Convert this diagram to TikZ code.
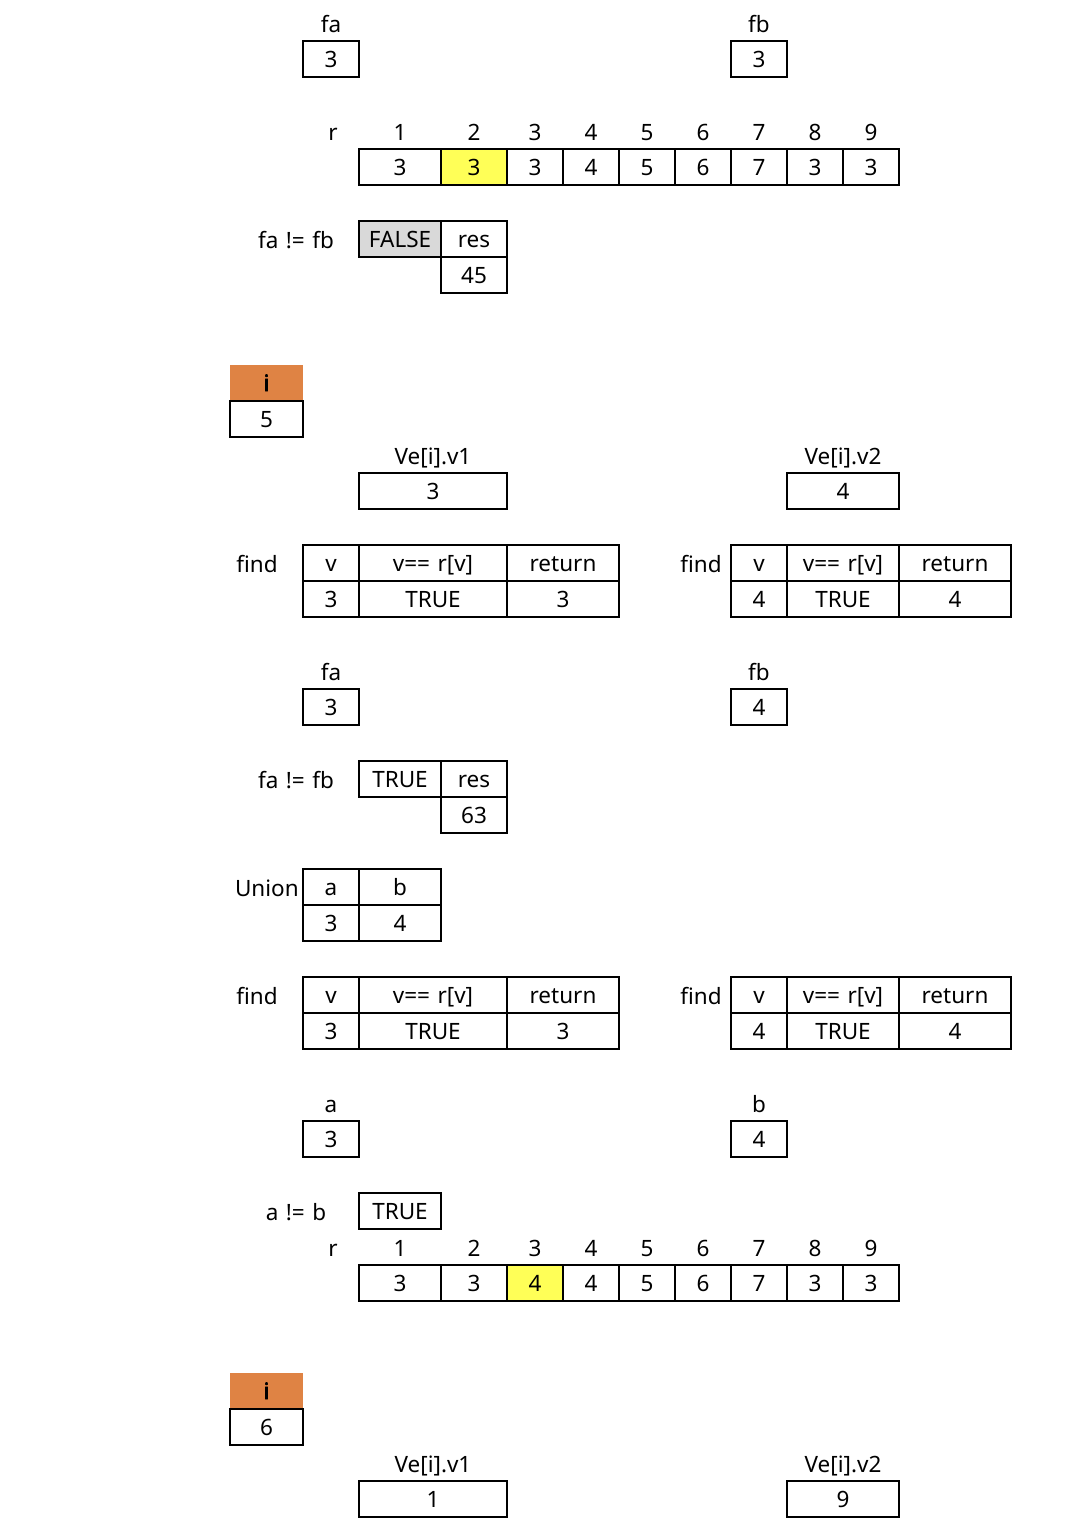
\documentclass[tikz,border=0pt]{standalone}
\usepackage{fontspec}
\setmainfont{Noto Sans}
\newfontfamily\iboldfont{Noto Sans}[FakeBold=2.5]
\definecolor{hlyellow}{HTML}{FFFF57}
\definecolor{idxorange}{HTML}{DF8344}
\definecolor{falsegray}{HTML}{D9D9D9}
\tikzset{
  txt/.style={font=\fontsize{22.5}{27}\selectfont, text height=16pt, text depth=0pt, inner sep=0pt, outer sep=0pt},
  cellst/.style={txt, draw=black, line width=1.8pt, fill=white},
  lab/.style={txt},
  yel/.style={fill=hlyellow},
  org/.style={fill=idxorange, draw=none, font=\fontsize{22.5}{27}\iboldfont},
  gry/.style={fill=falsegray},
}
% \Cell[style]{name}{x1}{x2}{y1}{y2}{text}
\newcommand\Cell[7][]{\node[cellst,#1,minimum width={(#4)-(#3)}, minimum height={(#6)-(#5)}] (#2) at ({((#3)+(#4))/2},{-((#5)+(#6))/2}) {#7};}
\begin{document}
\begin{tikzpicture}[x=1pt,y=1pt]
\useasboundingbox (0,0) rectangle (1070,-1526);
% ---------- Section 1 ----------
\node[lab] (faL1) at (331,-24) {fa};
\Cell{fa1}{303}{359}{41}{77}{3}
\node[lab] (fbL1) at (759,-24) {fb};
\Cell{fb1}{731}{787}{41}{77}{3}
\node[lab] (rL1) at (333,-132) {r};
\foreach \n/\xa/\xb/\v/\s in {1/359/441/3/,2/441/507/3/yel,3/507/563/3/,4/563/619/4/,5/619/675/5/,6/675/731/6/,7/731/787/7/,8/787/843/3/,9/843/899/3/}{
  \node[lab] (rIdxA\n) at ({(\xa+\xb)/2},-132) {\n};
  \Cell[\s]{rA\n}{\xa}{\xb}{149}{185}{\v}
}
\node[lab] (neqL1) at (296,-240) {fa\,\,!=\,\,fb};
\Cell[gry]{neqV1}{359}{441}{221}{257}{FALSE}
\Cell{resH1}{441}{507}{221}{257}{res}
\Cell{resV1}{441}{507}{257}{293}{45}
% ---------- Section 2 ----------
\Cell[org]{iH1}{230}{303}{365}{401}{i}
\Cell{iV1}{230}{303}{401}{437}{5}
\node[lab] (v1L1) at (433,-456) {Ve[i].v1};
\Cell{v1V1}{359}{507}{473}{509}{3}
\node[lab] (v2L1) at (843,-456) {Ve[i].v2};
\Cell{v2V1}{787}{899}{473}{509}{4}
% find tables
\node[lab] (findLa) at (257,-564) {find};
\Cell{fAvh}{303}{359}{545}{581}{v}
\Cell{fAch}{359}{507}{545}{581}{v==\,\,r[v]}
\Cell{fArh}{507}{619}{545}{581}{return}
\Cell{fAvv}{303}{359}{581}{617}{3}
\Cell{fAcv}{359}{507}{581}{617}{TRUE}
\Cell{fArv}{507}{619}{581}{617}{3}
\node[lab] (findLb) at (701,-564) {find};
\Cell{fBvh}{731}{787}{545}{581}{v}
\Cell{fBch}{787}{899}{545}{581}{v==\,\,r[v]}
\Cell{fBrh}{899}{1011}{545}{581}{return}
\Cell{fBvv}{731}{787}{581}{617}{4}
\Cell{fBcv}{787}{899}{581}{617}{TRUE}
\Cell{fBrv}{899}{1011}{581}{617}{4}
% fa fb
\node[lab] (faL2) at (331,-672) {fa};
\Cell{fa2}{303}{359}{689}{725}{3}
\node[lab] (fbL2) at (759,-672) {fb};
\Cell{fb2}{731}{787}{689}{725}{4}
\node[lab] (neqL2) at (296,-780) {fa\,\,!=\,\,fb};
\Cell{neqV2}{359}{441}{761}{797}{TRUE}
\Cell{resH2}{441}{507}{761}{797}{res}
\Cell{resV2}{441}{507}{797}{833}{63}
% Union
\node[lab, anchor=west] (unionL) at (235,-888) {Union};
\Cell{uAh}{303}{359}{869}{905}{a}
\Cell{uBh}{359}{441}{869}{905}{b}
\Cell{uAv}{303}{359}{905}{941}{3}
\Cell{uBv}{359}{441}{905}{941}{4}
% find tables 2
\node[lab] (findLc) at (257,-996) {find};
\Cell{fCvh}{303}{359}{977}{1013}{v}
\Cell{fCch}{359}{507}{977}{1013}{v==\,\,r[v]}
\Cell{fCrh}{507}{619}{977}{1013}{return}
\Cell{fCvv}{303}{359}{1013}{1049}{3}
\Cell{fCcv}{359}{507}{1013}{1049}{TRUE}
\Cell{fCrv}{507}{619}{1013}{1049}{3}
\node[lab] (findLd) at (701,-996) {find};
\Cell{fDvh}{731}{787}{977}{1013}{v}
\Cell{fDch}{787}{899}{977}{1013}{v==\,\,r[v]}
\Cell{fDrh}{899}{1011}{977}{1013}{return}
\Cell{fDvv}{731}{787}{1013}{1049}{4}
\Cell{fDcv}{787}{899}{1013}{1049}{TRUE}
\Cell{fDrv}{899}{1011}{1013}{1049}{4}
% a b
\node[lab] (aL) at (331,-1104) {a};
\Cell{aV}{303}{359}{1121}{1157}{3}
\node[lab] (bL) at (759,-1104) {b};
\Cell{bV}{731}{787}{1121}{1157}{4}
\node[lab] (neqL3) at (296,-1212) {a\,\,!=\,\,b};
\Cell{neqV3}{359}{441}{1193}{1229}{TRUE}
\node[lab] (rL2) at (333,-1248) {r};
\foreach \n/\xa/\xb/\v/\s in {1/359/441/3/,2/441/507/3/,3/507/563/4/yel,4/563/619/4/,5/619/675/5/,6/675/731/6/,7/731/787/7/,8/787/843/3/,9/843/899/3/}{
  \node[lab] (rIdxB\n) at ({(\xa+\xb)/2},-1248) {\n};
  \Cell[\s]{rB\n}{\xa}{\xb}{1265}{1301}{\v}
}
% ---------- Section 3 ----------
\Cell[org]{iH2}{230}{303}{1373}{1409}{i}
\Cell{iV2}{230}{303}{1409}{1445}{6}
\node[lab] (v1L2) at (433,-1464) {Ve[i].v1};
\Cell{v1V2}{359}{507}{1481}{1517}{1}
\node[lab] (v2L2) at (843,-1464) {Ve[i].v2};
\Cell{v2V2}{787}{899}{1481}{1517}{9}
\end{tikzpicture}
\end{document}
